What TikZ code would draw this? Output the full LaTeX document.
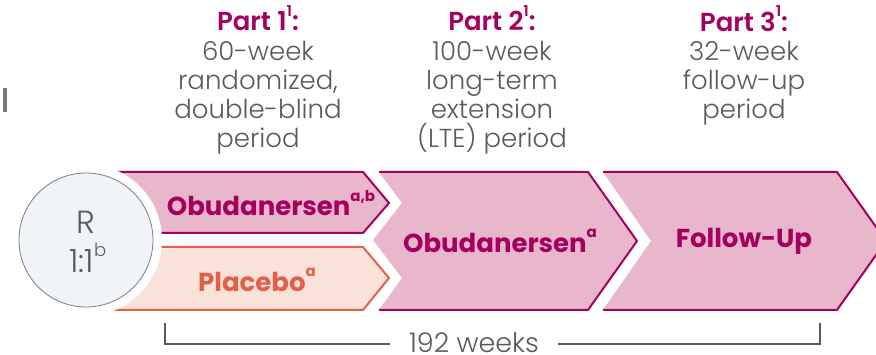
\documentclass[tikz,border=0pt]{standalone}
\usepackage{fontspec}
\setmainfont{Poppins}
\newfontfamily\lightfont{Poppins Light}
\definecolor{mag}{HTML}{A5005E}
\definecolor{pinkfill}{HTML}{E8B7CC}
\definecolor{peachfill}{HTML}{F9E2D7}
\definecolor{coral}{HTML}{E0604B}
\definecolor{txtgray}{HTML}{5A5A5A}
\definecolor{circfill}{HTML}{F0F3F7}
\tikzset{
  headtxt/.style={align=center, inner sep=0pt, anchor=base, text=txtgray,
    font=\lightfont\fontsize{26}{29.3}\selectfont},
  armtxt/.style={inner sep=0pt, font=\bfseries\fontsize{26}{28}\selectfont},
  magline/.style={draw=mag, line width=2pt, line join=miter},
  coralline/.style={draw=coral, line width=2pt, line join=miter},
  bracketline/.style={draw=txtgray, line width=1.5pt},
}
\newcommand{\hd}[1]{{\bfseries\color{mag}#1}}
\newcommand{\sups}[1]{\raisebox{0.55em}{\fontsize{15}{15}\selectfont #1}}
\begin{document}
\begin{tikzpicture}[x=1pt,y=-1pt]
\useasboundingbox (0,0) rectangle (876,355);
\clip (0,0) rectangle (876,355);
% Part 3 arrow
\fill[pinkfill] (603,172) -- (837,172) -- (886,241) -- (837,310) -- (603,310) -- (651,241) -- cycle;
\draw[magline] (603,172) -- (837,172) -- (886,241) -- (837,310) -- (603,310);
% Part 2 arrow
\fill[pinkfill] (379,172) -- (588,172) -- (637,241) -- (588,310) -- (379,310) -- (402,278) -- (373,240) -- (402,203) -- cycle;
\draw[magline] (379,172) -- (588,172) -- (637,241) -- (588,310) -- (379,310);
% Obudanersen (Part 1)
\fill[pinkfill] (86,172) -- (363,172) -- (389,203) -- (363,233) -- (86,233) -- cycle;
\draw[magline] (86,172) -- (363,172) -- (389,203) -- (363,233) -- (86,233);
% Placebo
\fill[peachfill] (86,247) -- (363,247) -- (389,278) -- (363,310) -- (86,310) -- cycle;
\draw[coralline] (86,247) -- (363,247) -- (389,278) -- (363,310) -- (86,310);
% circle
\fill[white] (86,240) circle[radius=76];
\node[circle, draw=txtgray!80, line width=0.8pt, fill=circfill, minimum size=134pt, inner sep=0pt] (rand) at (86,240) {};
\node[text=txtgray, inner sep=0pt, font=\lightfont\fontsize{32}{32}\selectfont] (rlab) at (86,222) {R};
\node[text=txtgray, inner sep=0pt, font=\lightfont\fontsize{32}{32}\selectfont] (ratio) at (88,258) {1:1\raisebox{0.5em}{\fontsize{18}{18}\selectfont b}};
% stray mark
\fill[txtgray!80] (3,88) rectangle (7,112);
% arm labels
\node[armtxt, text=mag] (obu1) at (271,203) {Obudanersen\sups{a,b}};
\node[armtxt, text=coral] (plac) at (257,280) {Placebo\sups{a}};
\node[armtxt, text=mag] (obu2) at (500,241) {Obudanersen\sups{a}};
\node[armtxt, text=mag] (fu) at (744,241) {Follow-Up};
% headings
\node[headtxt] (h1) at (258,148) {\hd{Part 1\sups{1}:}\\60-week\\randomized,\\double-blind\\period};
\node[headtxt] (h2) at (492,148) {\hd{Part 2\sups{1}:}\\100-week\\long-term\\extension\\(LTE) period};
\node[headtxt] (h3) at (744,119) {\hd{Part 3\sups{1}:}\\32-week\\follow-up\\period};
% bracket
\node[text=txtgray, inner sep=0pt, anchor=base, font=\lightfont\fontsize{27}{27}\selectfont] (weeks) at (474,353) {192 weeks};
\coordinate (bl) at (165,323);
\coordinate (br) at (820,323);
\draw[bracketline] (bl) |- ([xshift=-19pt]weeks.west |- 0,344);
\draw[bracketline] (br) |- ([xshift=19pt]weeks.east |- 0,344);
\end{tikzpicture}
\end{document}
